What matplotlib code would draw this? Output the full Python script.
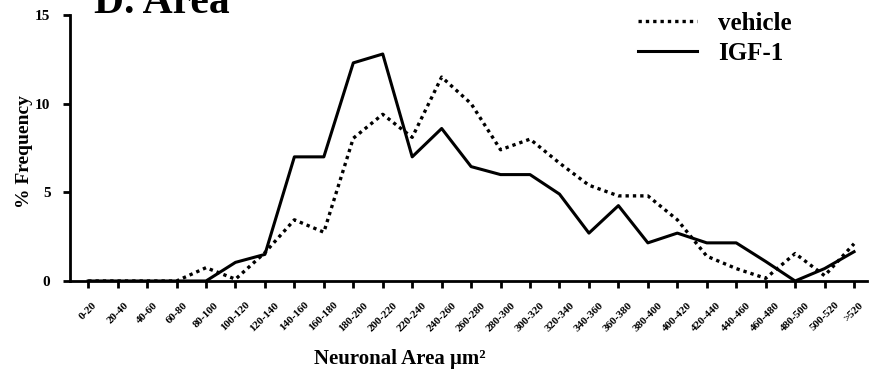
import matplotlib
matplotlib.use("Agg")
import matplotlib.pyplot as plt
import numpy as np

categories = ["0-20", "20-40", "40-60", "60-80", "80-100", "100-120", "120-140",
              "140-160", "160-180", "180-200", "200-220", "220-240", "240-260",
              "260-280", "280-300", "300-320", "320-340", "340-360", "360-380",
              "380-400", "400-420", "420-440", "440-460", "460-480", "480-500",
              "500-520", ">520"]
vehicle = [0, 0, 0, 0, 0.75, 0.1, 1.6, 3.45, 2.75, 8.05, 9.4, 8.1, 11.5,
           10.0, 7.4, 8.0, 6.65, 5.4, 4.8, 4.8, 3.45, 1.4, 0.7, 0.15, 1.55, 0.3, 2.1]
igf1 = [0, 0, 0, 0, 0, 1.05, 1.5, 7.0, 7.0, 12.3, 12.8, 7.0, 8.6,
        6.45, 6.0, 6.0, 4.9, 2.7, 4.25, 2.15, 2.7, 2.15, 2.15, 1.1, 0, 0.7, 1.65]
yticks = [0, 5, 10, 15]

plt.rcParams['font.family'] = ['Liberation Serif', 'DejaVu Serif']
fig = plt.figure(figsize=(8.74, 3.75), dpi=100)
ax = fig.add_axes([0.080, 0.2507, 0.912, 0.7093])

x = np.arange(len(categories))
ax.plot(x, vehicle, color='black', lw=2.4, linestyle=(0, (1, 1.2)), label='vehicle')
ax.plot(x, igf1, color='black', lw=2.2, linestyle='-', label='IGF-1')

ax.set_xlim(-0.62, 26.44)
ax.set_ylim(0, 15)
ax.set_yticks(yticks)
ax.set_yticklabels([str(v) for v in yticks], fontsize=11, fontweight='bold')
ax.set_xticks(x)
ax.set_xticklabels(categories, rotation=45, ha='center', va='top',
                   fontsize=8, fontweight='bold')
for s in ['top', 'right']:
    ax.spines[s].set_visible(False)
for s in ['left', 'bottom']:
    ax.spines[s].set_linewidth(2)
ax.tick_params(axis='both', direction='out', length=5, width=2)
ax.tick_params(axis='x', pad=9)
ax.tick_params(axis='y', pad=9)

ax.set_ylabel('% Frequency', fontsize=14, fontweight='bold')
ax.yaxis.set_label_coords((33 - 70) / (0.912 * 874), 0.485)
ax.set_xlabel('Neuronal Area \u03bcm\u00b2', fontsize=15, fontweight='bold', labelpad=12)
ax.xaxis.set_label_coords((400 - 70) / (0.912 * 874), -0.255)

fig.text(0.108, 1 - 13 / 375, 'D. Area', fontsize=30, fontweight='bold',
         va='baseline', ha='left')

leg = ax.legend(loc='upper left', bbox_to_anchor=(638 / 874, 0.969),
                bbox_transform=fig.transFigure, frameon=False,
                prop={'size': 18, 'weight': 'bold'}, handlelength=2.35,
                handletextpad=0.85, labelspacing=0.28, borderpad=0,
                borderaxespad=0)
plt.savefig('out.png', dpi=100)
